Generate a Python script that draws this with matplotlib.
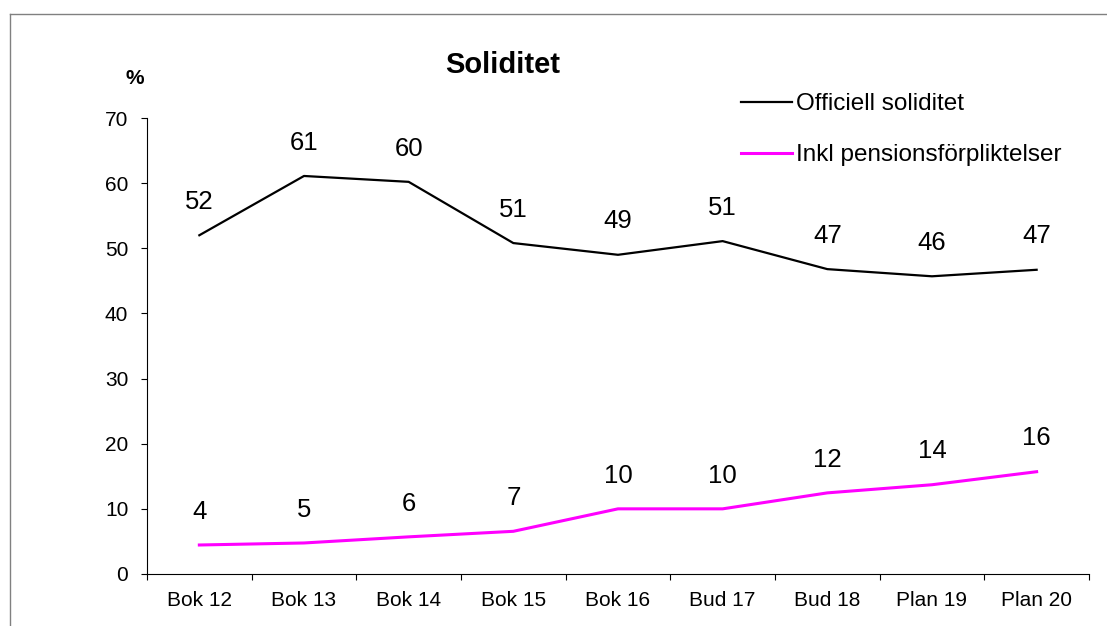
import numpy as np
import matplotlib
matplotlib.use("Agg")
import matplotlib.pyplot as plt
from matplotlib.lines import Line2D

plt.rcParams['font.family'] = ['Liberation Sans', 'DejaVu Sans']

categories = ["Bok 12", "Bok 13", "Bok 14", "Bok 15", "Bok 16",
              "Bud 17", "Bud 18", "Plan 19", "Plan 20"]
officiell = [52.0, 61.1, 60.2, 50.8, 49.0, 51.1, 46.8, 45.7, 46.7]
pension = [4.45, 4.76, 5.7, 6.55, 10.0, 10.0, 12.45, 13.7, 15.7]

fig = plt.figure(figsize=(11.07, 6.26), dpi=100)
ax = fig.add_axes([0.1328, 0.0831, 0.8509, 0.7284])

x = np.arange(len(categories))
ax.plot(x, officiell, color='black', lw=1.6, label='Officiell soliditet')
ax.plot(x, pension, color='#FF00FF', lw=2.2, label='Inkl pensionsförpliktelser')

for xi, v in zip(x, officiell):
    ax.annotate(f"{v:.0f}", (xi, v), xytext=(0, 24), textcoords='offset points',
                ha='center', va='center', fontsize=18.5)
for xi, v in zip(x, pension):
    ax.annotate(f"{v:.0f}", (xi, v), xytext=(0, 24), textcoords='offset points',
                ha='center', va='center', fontsize=18.5)

ax.set_xlim(-0.5, len(categories) - 0.5)
ax.set_ylim(0, 70)
ax.set_yticks(range(0, 71, 10))
ax.set_xticks(np.arange(-0.5, len(categories)), labels=[])
ax.set_xticks(x, labels=categories, minor=True)
ax.tick_params(axis='x', which='major', length=4.5, width=0.8, direction='out')
ax.tick_params(axis='x', which='minor', length=0, pad=12, labelsize=15)
ax.tick_params(axis='y', length=4.5, width=0.8, direction='out', pad=9, labelsize=15)
for s in ['top', 'right']:
    ax.spines[s].set_visible(False)
for s in ['left', 'bottom']:
    ax.spines[s].set_linewidth(0.8)

fig.text(0.454, 0.896, "Soliditet", ha='center', va='center', fontsize=21, fontweight='bold')
fig.text(0.122, 0.874, "%", ha='center', va='center', fontsize=15, fontweight='bold')

fig.legend(loc='upper left', bbox_to_anchor=(0.669, 0.851), frameon=False,
           fontsize=17.5, handlelength=2.1, handletextpad=0.2, labelspacing=1.2,
           borderpad=0, borderaxespad=0)

# outer frame (left and top edges)
fx = 10 / 1107
fy = 1 - 14 / 626
fig.add_artist(Line2D([fx, fx], [0, fy], transform=fig.transFigure, color='#808080', lw=1))
fig.add_artist(Line2D([fx, 1], [fy, fy], transform=fig.transFigure, color='#808080', lw=1))

fig.savefig("out.png", dpi=100)
